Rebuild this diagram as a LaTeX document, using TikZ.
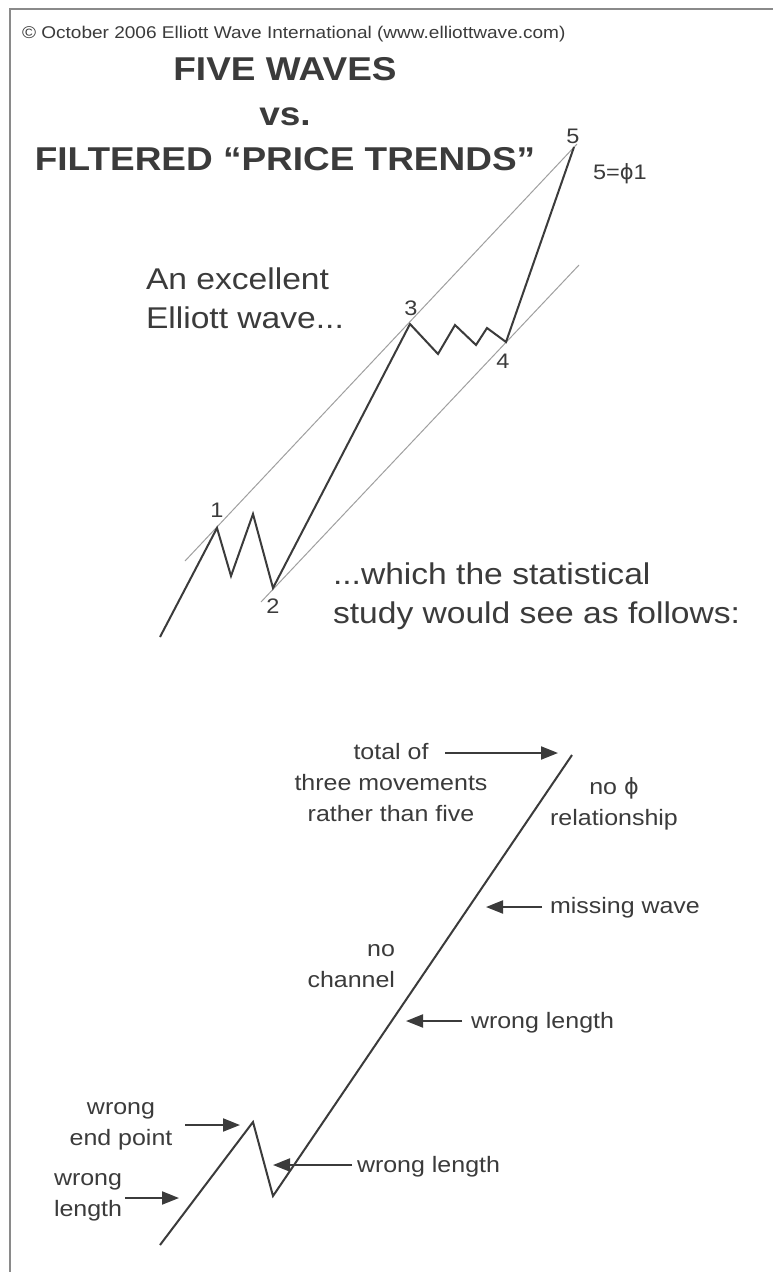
\documentclass[tikz,border=0pt]{standalone}
\usepackage{fontspec}
\setmainfont{Liberation Sans}[FakeStretch=1.12]
\newfontfamily\phifont{DejaVu Sans}
\usetikzlibrary{arrows.meta}
\definecolor{ink}{HTML}{3B3B3B}
\definecolor{chan}{HTML}{A0A0A0}
\definecolor{framegray}{HTML}{8A8A8A}
\newcommand{\phisym}{{\phifont\char"03D5}}
\tikzset{
  wave/.style={draw=ink, line width=2pt, line join=miter},
  chanline/.style={draw=chan, line width=1pt},
  pointer/.style={draw=ink, line width=2pt, -{Triangle[length=17pt,width=13pt]}},
  txt/.style={inner sep=0pt, outer sep=0pt, text=ink},
  copyrighttxt/.style={txt, font=\fontsize{17}{20}\selectfont},
  titletxt/.style={txt, font=\bfseries\fontsize{33}{45}\selectfont, align=center},
  bodytxt/.style={txt, font=\fontsize{30}{39}\selectfont, align=left},
  notetxt/.style={txt, font=\fontsize{22.3}{31}\selectfont},
  wavenum/.style={txt, font=\fontsize{21}{24}\selectfont},
}
\begin{document}
\begin{tikzpicture}[x=1pt,y=-1pt]
\useasboundingbox (0,0) rectangle (773,1272);
\fill[white] (0,0) rectangle (773,1272);
\draw[framegray, line width=1.5pt] (773,9) -- (10,9) -- (10,1272);

% header (base anchor of a multi-line node = baseline of its last line)
\node[copyrighttxt, anchor=base west] (copyright) at (22,38)
  {© October 2006 Elliott Wave International (www.elliottwave.com)};
\node[titletxt, anchor=base] (title) at (285,170)
  {FIVE WAVES\\vs.\\FILTERED “PRICE TRENDS”};

% upper wave: points
\coordinate (u0) at (160,637);
\coordinate (u1) at (217,528);
\coordinate (u1a) at (231,576);
\coordinate (u1b) at (253,514);
\coordinate (u2) at (273,588);
\coordinate (u3) at (410,324);
\coordinate (u3a) at (438,354);
\coordinate (u3b) at (455,325);
\coordinate (u3c) at (476,345);
\coordinate (u3d) at (487,328);
\coordinate (u4) at (506,342);
\coordinate (u5) at (574,147);
% channel ends
\coordinate (cu0) at (185,561);
\coordinate (cu1) at (577,144);
\coordinate (cl0) at (261,602);
\coordinate (cl1) at (579,265);

\draw[chanline] (cu0) -- (cu1);
\draw[chanline] (cl0) -- (cl1);
\draw[wave] (u0) -- (u1) -- (u1a) -- (u1b) -- (u2) -- (u3) -- (u3a) -- (u3b)
  -- (u3c) -- (u3d) -- (u4) -- (u5);

\node[wavenum, anchor=base] (lbl1) at (217,517) {1};
\node[wavenum, anchor=base] (lbl2) at (273,613) {2};
\node[wavenum, anchor=base] (lbl3) at (411,315) {3};
\node[wavenum, anchor=base] (lbl4) at (503,368) {4};
\node[wavenum, anchor=base] (lbl5) at (573,143) {5};
\node[wavenum, anchor=base west] (phirel) at (593,179) {5=\phisym1};

\node[bodytxt, anchor=base west] (excellent) at (146,328)
  {An excellent\\Elliott wave...};
\node[bodytxt, anchor=base west] (statistical) at (333,623)
  {...which the statistical\\study would see as follows:};

% lower diagram
\coordinate (l0) at (160,1245);
\coordinate (l1) at (253,1122);
\coordinate (l2) at (273,1196);
\coordinate (l3) at (572,755);
\draw[wave] (l0) -- (l1) -- (l2) -- (l3);

\node[notetxt, align=center, anchor=base] (totalof) at (391,821)
  {total of\\three movements\\rather than five};
\node[notetxt, align=center, anchor=base] (nophi) at (614,825)
  {no \phisym\\relationship};
\node[notetxt, anchor=base west] (missing) at (550,913) {missing wave};
\node[notetxt, align=right, anchor=base east] (nochannel) at (395,987)
  {no\\channel};
\node[notetxt, anchor=base west] (wlmid) at (471,1028) {wrong length};
\node[notetxt, align=center, anchor=base] (wendpt) at (121,1145)
  {wrong\\end point};
\node[notetxt, anchor=base west] (wlright) at (357,1172) {wrong length};
\node[notetxt, align=left, anchor=base west] (wlleft) at (54,1216)
  {wrong\\length};

% pointer tails and tips
\coordinate (t-total) at (445,753);   \coordinate (h-total) at (558,753);
\coordinate (t-miss) at (542,907);    \coordinate (h-miss) at (486,907);
\coordinate (t-wlmid) at (462,1021);  \coordinate (h-wlmid) at (406,1021);
\coordinate (t-end) at (185,1125);    \coordinate (h-end) at (240,1125);
\coordinate (t-wlr) at (352,1165);    \coordinate (h-wlr) at (273,1165);
\coordinate (t-wll) at (125,1198);    \coordinate (h-wll) at (179,1198);

\draw[pointer] (t-total) -- (h-total);
\draw[pointer] (t-miss) -- (h-miss);
\draw[pointer] (t-wlmid) -- (h-wlmid);
\draw[pointer] (t-end) -- (h-end);
\draw[pointer] (t-wlr) -- (h-wlr);
\draw[pointer] (t-wll) -- (h-wll);
\end{tikzpicture}
\end{document}
